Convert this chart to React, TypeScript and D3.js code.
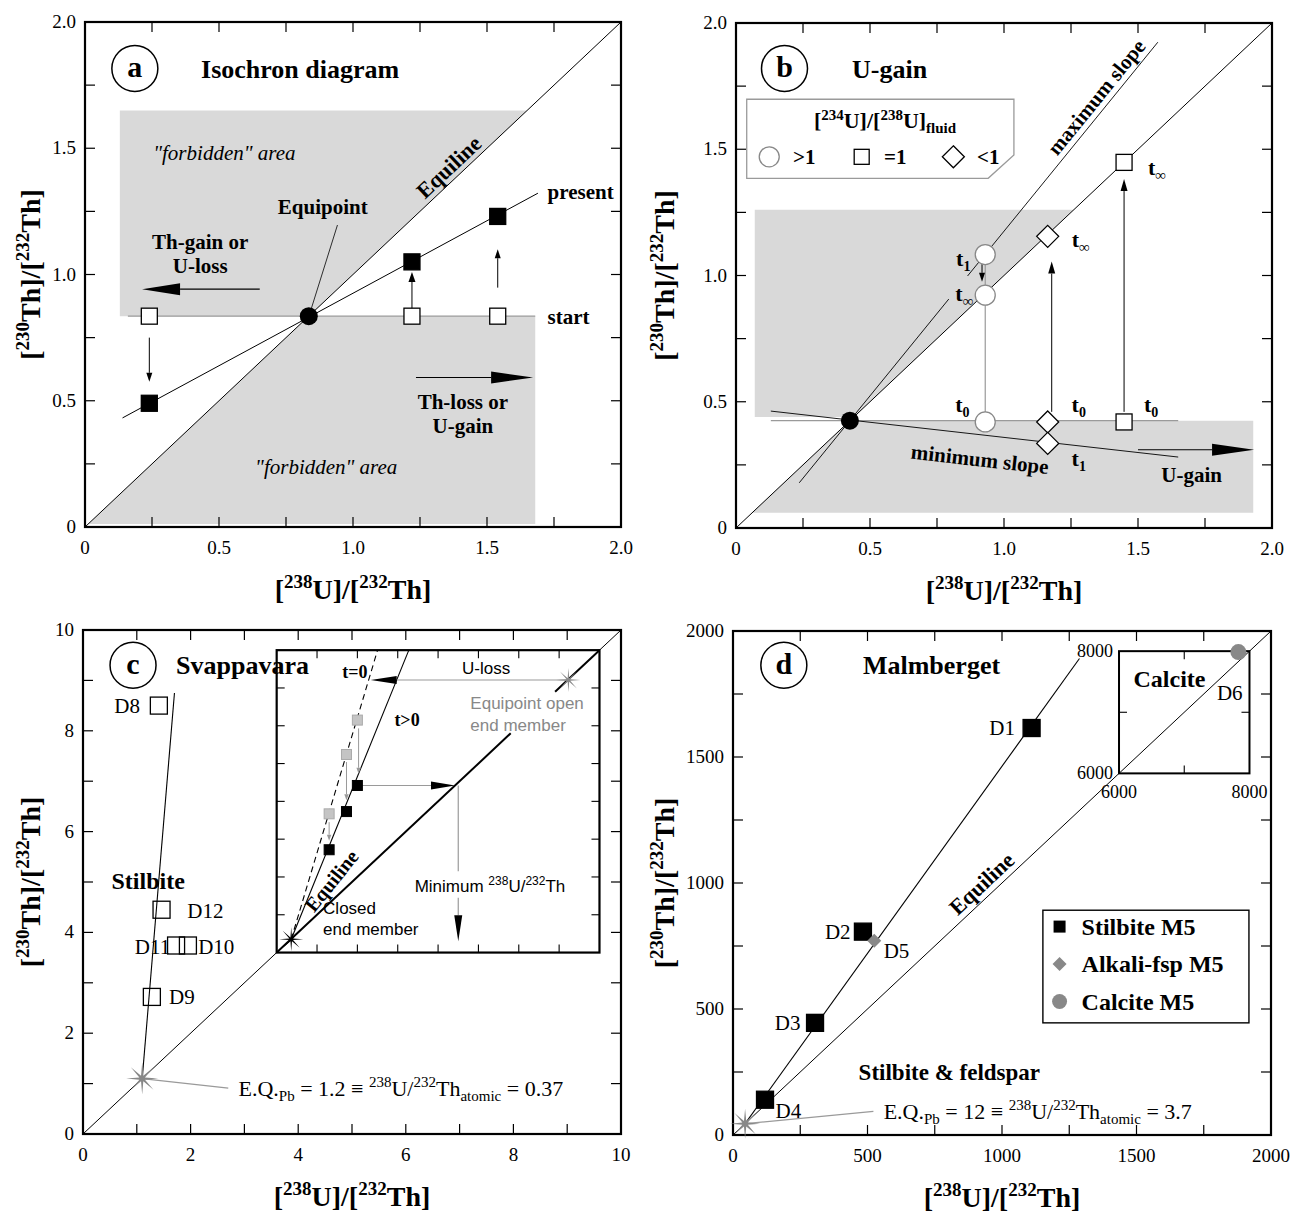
import React from "react";
import * as d3 from "d3";

// ---------------- data ----------------
// panel a : isochron diagram
const aEquipoint = 0.835;
const aSampleX = [0.24, 1.22, 1.54];
const aPresentY = [0.49, 1.05, 1.23];
const aPresentLine = [[0.14, 0.432], [1.69, 1.322]];
const aUpperArea = [[0.13, 0.835], [0.13, 1.65], [1.65, 1.65], [0.835, 0.835]];
const aLowerArea = [[0.015, 0.015], [0.835, 0.835], [1.68, 0.835], [1.68, 0.012], [0.015, 0.012]];

// panel b : U-gain
const bEquipoint = 0.425;
const bCircleX = 0.93;
const bCircleY = [0.42, 0.922, 1.083]; // t0, t-inf, t1
const bDiamondX = 1.163;
const bDiamondY = [0.42, 1.155, 0.335]; // t0, t-inf, t1
const bSquareX = 1.448;
const bSquareY = [0.42, 1.448]; // t0, t-inf
const bMaxSlope = [[0.236, 0.179], [1.574, 1.924]];
const bMinSlope = [[0.13, 0.463], [1.65, 0.281]];
const bUpperArea = [[0.07, 0.44], [0.07, 1.26], [1.26, 1.26], [0.44, 0.44]];
const bLowerArea = [[0.06, 0.06], [0.425, 0.425], [1.93, 0.425], [1.93, 0.06]];

// panel c : Svappavara
const cNames = ["D8", "D12", "D11", "D10", "D9"];
const cU = [1.41, 1.46, 1.73, 1.95, 1.28];
const cTh = [8.5, 4.45, 3.74, 3.74, 2.72];
const cEquipoint = 1.1;
const cStilbiteLine = [[1.1, 1.09], [1.7, 8.75]];
const cInsetBox = [3.6, 9.6];
const cInsetX = [1.3, 1.73, 2.0];
const cInsetClosed = [2.72, 3.73, 4.42]; // t>0
const cInsetOpen = [3.67, 5.24, 6.15]; // t=0
const cClosedStar = [0.36, 0.35];
const cOpenStar = [7.23, 7.21];

// panel d : Malmberget
const dNames = ["D1", "D2", "D3", "D4"];
const dU = [1110, 483, 305, 119];
const dTh = [1615, 807, 445, 140];
const dFsp = [525, 771]; // D5
const dCalcite = [7830, 7985]; // D6
const dEquipoint = 45;
const dLine = [[45, 45], [1288, 1891]];
const dInsetBox = [1435, 1920];
const dLegend = ["Stilbite M5", "Alkali-fsp M5", "Calcite M5"];

// ---------------- style ----------------
const SERIF = "'Liberation Serif', 'Times New Roman', serif";
const SANS = "'Liberation Sans', Arial, sans-serif";
const AREA = "#d9d9d9";
const LGRAY = "#9a9a9a";
const MGRAY = "#888";

const frames = {
  a: { l: 85, r: 621, t: 22, b: 527, yt: 30 },
  b: { l: 736, r: 1272, t: 23, b: 528, yt: 664 },
  c: { l: 83, r: 621, t: 630, b: 1134, yt: 30 },
  d: { l: 733, r: 1271, t: 631, b: 1135, yt: 664 },
};

function Axes({ fr, x, y, major, minorStep, fmt }) {
  const [d0, d1] = x.domain();
  const minor = d3.range(d0 + minorStep, d1 - minorStep / 2, minorStep);
  const tl = 10;
  return (
    <g>
      <g stroke="#000" strokeWidth={1.2}>
        {minor.map((v) => (
          <g key={v}>
            <line x1={x(v)} x2={x(v)} y1={fr.b} y2={fr.b - tl} />
            <line x1={x(v)} x2={x(v)} y1={fr.t} y2={fr.t + tl} />
            <line y1={y(v)} y2={y(v)} x1={fr.l} x2={fr.l + tl} />
            <line y1={y(v)} y2={y(v)} x1={fr.r} x2={fr.r - tl} />
          </g>
        ))}
      </g>
      <rect x={fr.l} y={fr.t} width={fr.r - fr.l} height={fr.b - fr.t} fill="none" stroke="#000" strokeWidth={2.2} />
      <g fontSize={19}>
        {major.map((v) => (
          <text key={"x" + v} x={x(v)} y={fr.b + 27} textAnchor="middle">{fmt(v)}</text>
        ))}
        {major.map((v) => (
          <text key={"y" + v} x={fr.l - 9} y={y(v) + 6} textAnchor="end">{fmt(v)}</text>
        ))}
      </g>
      <text x={(fr.l + fr.r) / 2} y={fr.b + 72} textAnchor="middle" fontWeight="bold" fontSize={28}>
        [<tspan dy={-11} fontSize={19}>238</tspan><tspan dy={11}>U]/[</tspan><tspan dy={-11} fontSize={19}>232</tspan><tspan dy={11}>Th]</tspan>
      </text>
      <text transform={`translate(${fr.yt},${(fr.t + fr.b) / 2}) rotate(-90)`} textAnchor="middle" fontWeight="bold" fontSize={28} dy={10}>
        [<tspan dy={-11} fontSize={19}>230</tspan><tspan dy={11}>Th]/[</tspan><tspan dy={-11} fontSize={19}>232</tspan><tspan dy={11}>Th]</tspan>
      </text>
    </g>
  );
}

function Lbl({ x, y, anchor = "start", size = 21, bold = true, italic = false, fill = "#000", font = SERIF, rot = 0, children }) {
  return (
    <text x={x} y={y} dy="0.35em" textAnchor={anchor} fontSize={size} fontWeight={bold ? "bold" : "normal"}
      fontStyle={italic ? "italic" : "normal"} fill={fill} fontFamily={font}
      transform={rot ? `rotate(${rot},${x},${y})` : undefined}>
      {children}
    </text>
  );
}

function TitleBadge({ cx, cy, letter, title, tx }) {
  return (
    <g>
      <circle cx={cx} cy={cy} r={23} fill="none" stroke="#000" strokeWidth={1.5} />
      <Lbl x={cx} y={cy - 2} anchor="middle" size={30}>{letter}</Lbl>
      <Lbl x={tx} y={cy} size={26}>{title}</Lbl>
    </g>
  );
}

function Arrow({ x1, y1, x2, y2, len = 10, hw = 3.5, stroke = "#000", head = "#000", sw = 1 }) {
  const dx = x2 - x1, dy = y2 - y1, d = Math.hypot(dx, dy);
  const ux = dx / d, uy = dy / d;
  const bx = x2 - ux * len, by = y2 - uy * len;
  const pts = `${x2},${y2} ${bx - uy * hw},${by + ux * hw} ${bx + uy * hw},${by - ux * hw}`;
  return (
    <g>
      <line x1={x1} y1={y1} x2={bx} y2={by} stroke={stroke} strokeWidth={sw} />
      <polygon points={pts} fill={head} />
    </g>
  );
}

function Square({ cx, cy, s = 16, fill = "#fff", stroke = "#000", sw = 1.3 }) {
  return <rect x={cx - s / 2} y={cy - s / 2} width={s} height={s} fill={fill} stroke={stroke} strokeWidth={sw} />;
}

function Diamond({ cx, cy, h = 11, fill = "#fff", stroke = "#000", sw = 1.3 }) {
  return <polygon points={`${cx},${cy - h} ${cx + h},${cy} ${cx},${cy + h} ${cx - h},${cy}`} fill={fill} stroke={stroke} strokeWidth={sw} />;
}

function Star({ cx, cy, R = 14, r = 2.5, fill = MGRAY }) {
  const pts = d3.range(16).map((i) => {
    const a = (i * Math.PI) / 8;
    const rr = i % 2 === 0 ? R : r;
    return `${cx + rr * Math.cos(a)},${cy + rr * Math.sin(a)}`;
  });
  return <polygon points={pts.join(" ")} fill={fill} />;
}

const angleOf = (x, y, p, q) => (Math.atan2(y(q[1]) - y(p[1]), x(q[0]) - x(p[0])) * 180) / Math.PI;

const fmt1 = (v) => (v === 0 ? "0" : d3.format(".1f")(v));

function PanelA() {
  const fr = frames.a;
  const x = d3.scaleLinear([0, 2], [fr.l, fr.r]);
  const y = d3.scaleLinear([0, 2], [fr.b, fr.t]);
  const line = d3.line().x((d) => x(d[0])).y((d) => y(d[1]));
  const eqA = angleOf(x, y, [0, 0], [1, 1]);
  return (
    <g>
      <path d={line(aUpperArea) + "Z"} fill={AREA} />
      <path d={line(aLowerArea) + "Z"} fill={AREA} />
      <line x1={x(0.16)} x2={x(1.68)} y1={y(aEquipoint)} y2={y(aEquipoint)} stroke={LGRAY} strokeWidth={1.2} />
      <line x1={x(0)} y1={y(0)} x2={x(2)} y2={y(2)} stroke="#000" strokeWidth={1} />
      <path d={line(aPresentLine)} stroke="#000" strokeWidth={1} fill="none" />
      <line x1={x(0.84)} y1={y(0.85)} x2={x(0.942)} y2={y(1.196)} stroke="#000" strokeWidth={0.8} />
      <Axes fr={fr} x={x} y={y} major={d3.range(0, 2.01, 0.5)} minorStep={0.25} fmt={fmt1} />
      <Arrow x1={x(aSampleX[0])} y1={y(0.75)} x2={x(aSampleX[0])} y2={y(0.575)} len={9} hw={3} />
      <Arrow x1={x(aSampleX[1])} y1={y(aEquipoint)} x2={x(aSampleX[1])} y2={y(1.01)} len={10} hw={3.5} />
      <Arrow x1={x(aSampleX[2])} y1={y(0.948)} x2={x(aSampleX[2])} y2={y(1.1)} len={9} hw={3} />
      {aSampleX.map((v, i) => (
        <g key={i}>
          <Square cx={x(v)} cy={y(aEquipoint)} />
          <Square cx={x(v)} cy={y(aPresentY[i])} fill="#000" />
        </g>
      ))}
      <circle cx={x(aEquipoint)} cy={y(aEquipoint)} r={9} fill="#000" />
      <Arrow x1={x(0.652)} y1={y(0.942)} x2={x(0.213)} y2={y(0.942)} len={38} hw={6} sw={1.2} />
      <Arrow x1={x(1.235)} y1={y(0.592)} x2={x(1.672)} y2={y(0.592)} len={42} hw={6} sw={1.2} />
      <Lbl x={x(0.887)} y={y(1.267)} anchor="middle">Equipoint</Lbl>
      <Lbl x={x(1.726)} y={y(1.33)}>present</Lbl>
      <Lbl x={x(1.726)} y={y(aEquipoint)}>start</Lbl>
      <Lbl x={x(0.43)} y={y(1.13)} anchor="middle">Th-gain or</Lbl>
      <Lbl x={x(0.43)} y={y(1.035)} anchor="middle">U-loss</Lbl>
      <Lbl x={x(1.41)} y={y(0.496)} anchor="middle">Th-loss or</Lbl>
      <Lbl x={x(1.41)} y={y(0.402)} anchor="middle">U-gain</Lbl>
      <Lbl x={x(0.52)} y={y(1.484)} anchor="middle" bold={false} italic>"forbidden" area</Lbl>
      <Lbl x={x(0.9)} y={y(0.24)} anchor="middle" bold={false} italic>"forbidden" area</Lbl>
      <Lbl x={x(1.357)} y={y(1.426)} anchor="middle" size={22} rot={eqA}>Equiline</Lbl>
      <TitleBadge cx={x(0.186)} cy={y(1.816)} letter="a" title="Isochron diagram" tx={x(0.433)} />
    </g>
  );
}

function Tlabel({ x, y, sub }) {
  return (
    <text x={x} y={y} dy="0.3em" textAnchor="middle" fontWeight="bold" fontSize={22}>
      t<tspan dy={5} fontSize={sub === "\u221E" ? 15 : 14}>{sub}</tspan>
    </text>
  );
}

function PanelB() {
  const fr = frames.b;
  const x = d3.scaleLinear([0, 2], [fr.l, fr.r]);
  const y = d3.scaleLinear([0, 2], [fr.b, fr.t]);
  const line = d3.line().x((d) => x(d[0])).y((d) => y(d[1]));
  const maxAt = (u) => bMaxSlope[0][1] + ((bMaxSlope[1][1] - bMaxSlope[0][1]) / (bMaxSlope[1][0] - bMaxSlope[0][0])) * (u - bMaxSlope[0][0]);
  const maxA = angleOf(x, y, bMaxSlope[0], bMaxSlope[1]);
  const minA = angleOf(x, y, bMinSlope[0], bMinSlope[1]);
  const lg = { x0: 0.04, x1: 1.037, yt: 1.698, yb: 1.385, cy: 1.477, cx: 0.941 };
  const legendPath = `M${x(lg.x0)},${y(lg.yt)}H${x(lg.x1)}V${y(lg.cy)}L${x(lg.cx)},${y(lg.yb)}H${x(lg.x0)}Z`;
  const rowY = y(1.47);
  return (
    <g>
      <path d={line(bUpperArea) + "Z"} fill={AREA} />
      <path d={line(bLowerArea) + "Z"} fill={AREA} />
      <line x1={x(0.13)} x2={x(1.65)} y1={y(bEquipoint)} y2={y(bEquipoint)} stroke={LGRAY} strokeWidth={1.2} />
      <line x1={x(0)} y1={y(0)} x2={x(2)} y2={y(2)} stroke="#000" strokeWidth={1} />
      <line x1={x(bMaxSlope[0][0])} y1={y(bMaxSlope[0][1])} x2={x(0.794)} y2={y(maxAt(0.794))} stroke="#000" strokeWidth={0.9} />
      <line x1={x(0.864)} y1={y(maxAt(0.864))} x2={x(bMaxSlope[1][0])} y2={y(bMaxSlope[1][1])} stroke="#000" strokeWidth={0.9} />
      <path d={line(bMinSlope)} stroke="#000" strokeWidth={0.9} fill="none" />
      <line x1={x(bCircleX)} x2={x(bCircleX)} y1={y(bCircleY[0])} y2={y(bCircleY[2])} stroke={LGRAY} strokeWidth={1.2} />
      <line x1={x(bDiamondX)} x2={x(bDiamondX)} y1={y(bDiamondY[0])} y2={y(bDiamondY[2])} stroke={LGRAY} strokeWidth={1.2} />
      <Axes fr={fr} x={x} y={y} major={d3.range(0, 2.01, 0.5)} minorStep={0.25} fmt={fmt1} />
      <Arrow x1={x(1.178)} y1={y(0.46)} x2={x(1.178)} y2={y(1.055)} len={12} hw={3.5} />
      <Arrow x1={x(bSquareX)} y1={y(0.46)} x2={x(bSquareX)} y2={y(1.382)} len={12} hw={3.5} />
      <Arrow x1={x(0.918)} y1={y(1.045)} x2={x(0.918)} y2={y(0.975)} len={9} hw={3} />
      <circle cx={x(bEquipoint)} cy={y(bEquipoint)} r={9} fill="#000" />
      {bCircleY.map((v, i) => (
        <circle key={"c" + i} cx={x(bCircleX)} cy={y(v)} r={10} fill="#fff" stroke={MGRAY} strokeWidth={1.3} />
      ))}
      {bDiamondY.map((v, i) => (
        <Diamond key={"d" + i} cx={x(bDiamondX)} cy={y(v)} />
      ))}
      {bSquareY.map((v, i) => (
        <Square key={"s" + i} cx={x(bSquareX)} cy={y(v)} />
      ))}
      <Arrow x1={x(1.5)} y1={y(0.31)} x2={x(1.933)} y2={y(0.31)} len={42} hw={6} sw={1.2} />
      <Tlabel x={x(0.845)} y={y(0.486)} sub="0" />
      <Tlabel x={x(1.279)} y={y(0.486)} sub="0" />
      <Tlabel x={x(1.549)} y={y(0.486)} sub="0" />
      <Tlabel x={x(0.848)} y={y(1.062)} sub="1" />
      <Tlabel x={x(0.852)} y={y(0.926)} sub={"\u221E"} />
      <Tlabel x={x(1.286)} y={y(1.138)} sub={"\u221E"} />
      <Tlabel x={x(1.571)} y={y(1.426)} sub={"\u221E"} />
      <Tlabel x={x(1.279)} y={y(0.273)} sub="1" />
      <Lbl x={x(0.91)} y={y(0.273)} anchor="middle" rot={minA}>minimum slope</Lbl>
      <Lbl x={x(1.344)} y={y(1.707)} anchor="middle" rot={maxA}>maximum slope</Lbl>
      <Lbl x={x(1.7)} y={y(0.212)} anchor="middle">U-gain</Lbl>
      <path d={legendPath} fill="#fff" stroke={LGRAY} strokeWidth={1.3} />
      <text x={x(0.556)} y={y(1.616)} dy="0.35em" textAnchor="middle" fontWeight="bold" fontSize={22}>
        [<tspan dy={-8} fontSize={15}>234</tspan><tspan dy={8}>U]/[</tspan><tspan dy={-8} fontSize={15}>238</tspan><tspan dy={8}>U]</tspan><tspan dy={5} fontSize={15}>fluid</tspan>
      </text>
      <circle cx={x(0.124)} cy={rowY} r={10} fill="#fff" stroke={MGRAY} strokeWidth={1.3} />
      <Lbl x={x(0.213)} y={rowY}>&gt;1</Lbl>
      <Square cx={x(0.469)} cy={rowY} s={15} />
      <Lbl x={x(0.552)} y={rowY}>=1</Lbl>
      <Diamond cx={x(0.811)} cy={rowY} h={11} />
      <Lbl x={x(0.899)} y={rowY}>&lt;1</Lbl>
      <TitleBadge cx={x(0.181)} cy={y(1.82)} letter="b" title="U-gain" tx={x(0.433)} />
    </g>
  );
}

function EqText({ x, y, pb, atomic }) {
  return (
    <text x={x} y={y} dy="0.35em" fontSize={22}>
      E.Q.<tspan dy={5} fontSize={15}>Pb</tspan><tspan dy={-5}>{` = ${pb} \u2261 `}</tspan>
      <tspan dy={-9} fontSize={15}>238</tspan><tspan dy={9}>U/</tspan><tspan dy={-9} fontSize={15}>232</tspan>
      <tspan dy={9}>Th</tspan><tspan dy={5} fontSize={15}>atomic</tspan><tspan dy={-5}>{` = ${atomic}`}</tspan>
    </text>
  );
}

function PanelC() {
  const fr = frames.c;
  const x = d3.scaleLinear([0, 10], [fr.l, fr.r]);
  const y = d3.scaleLinear([0, 10], [fr.b, fr.t]);
  const ix = d3.scaleLinear([0, 8], [x(cInsetBox[0]), x(cInsetBox[1])]);
  const iy = d3.scaleLinear([0, 8], [y(cInsetBox[0]), y(cInsetBox[1])]);
  const it = d3.range(1, 8);
  const solidTop = [3.275, 8];
  const dashTop = [2.5, 8];
  const eqA = angleOf(ix, iy, [0, 0], [1, 1]);
  return (
    <g>
      <line x1={x(0)} y1={y(0)} x2={x(10)} y2={y(10)} stroke="#000" strokeWidth={1} />
      <line x1={x(cStilbiteLine[0][0])} y1={y(cStilbiteLine[0][1])} x2={x(cStilbiteLine[1][0])} y2={y(cStilbiteLine[1][1])} stroke="#000" strokeWidth={1.1} />
      <line x1={x(cEquipoint)} y1={y(cEquipoint)} x2={x(2.7)} y2={y(0.91)} stroke={LGRAY} strokeWidth={1.2} />
      <Axes fr={fr} x={x} y={y} major={d3.range(0, 10.01, 2)} minorStep={1} fmt={d3.format("d")} />
      <Star cx={x(cEquipoint)} cy={y(cEquipoint)} R={16} r={3} />
      {cNames.map((n, i) => (
        <Square key={n} cx={x(cU[i])} cy={y(cTh[i])} s={17} fill="none" />
      ))}
      <Lbl x={x(1.06)} y={y(8.5)} anchor="end" bold={false}>D8</Lbl>
      <Lbl x={x(1.94)} y={y(4.43)} bold={false}>D12</Lbl>
      <Lbl x={x(1.62)} y={y(3.72)} anchor="end" bold={false}>D11</Lbl>
      <Lbl x={x(2.14)} y={y(3.72)} bold={false}>D10</Lbl>
      <Lbl x={x(1.6)} y={y(2.72)} bold={false}>D9</Lbl>
      <Lbl x={x(0.53)} y={y(5.02)} size={24}>Stilbite</Lbl>
      <EqText x={x(2.89)} y={y(0.9)} pb="1.2" atomic="0.37" />

      {/* inset */}
      <rect x={ix(0)} y={iy(8)} width={ix(8) - ix(0)} height={iy(0) - iy(8)} fill="#fff" />
      <g stroke="#000" strokeWidth={1.1}>
        {it.map((v) => (
          <g key={v}>
            <line x1={ix(v)} x2={ix(v)} y1={iy(0)} y2={iy(0) - 8} />
            <line x1={ix(v)} x2={ix(v)} y1={iy(8)} y2={iy(8) + 8} />
            <line y1={iy(v)} y2={iy(v)} x1={ix(0)} x2={ix(0) + 8} />
            <line y1={iy(v)} y2={iy(v)} x1={ix(8)} x2={ix(8) - 8} />
          </g>
        ))}
      </g>
      <line x1={ix(0)} y1={iy(0)} x2={ix(5.8)} y2={iy(5.8)} stroke="#000" strokeWidth={2} />
      <line x1={ix(6.9)} y1={iy(6.9)} x2={ix(8)} y2={iy(8)} stroke="#000" strokeWidth={2} />
      <line x1={ix(cClosedStar[0])} y1={iy(cClosedStar[1])} x2={ix(solidTop[0])} y2={iy(solidTop[1])} stroke="#000" strokeWidth={1.1} />
      <line x1={ix(cClosedStar[0])} y1={iy(cClosedStar[1])} x2={ix(dashTop[0])} y2={iy(dashTop[1])} stroke="#000" strokeWidth={1.1} strokeDasharray="6,4" />
      <Arrow x1={ix(cOpenStar[0])} y1={iy(cOpenStar[1])} x2={ix(2.33)} y2={iy(cOpenStar[1])} len={26} hw={4} stroke={LGRAY} sw={1.2} />
      <Arrow x1={ix(cInsetX[2])} y1={iy(cInsetClosed[2])} x2={ix(cInsetClosed[2])} y2={iy(cInsetClosed[2])} len={24} hw={4} stroke={LGRAY} sw={1.2} />
      <line x1={ix(4.5)} x2={ix(4.5)} y1={iy(cInsetClosed[2])} y2={iy(2.15)} stroke={LGRAY} strokeWidth={1.2} />
      <Arrow x1={ix(4.5)} y1={iy(1.45)} x2={ix(4.5)} y2={iy(0.3)} len={26} hw={4} stroke={LGRAY} sw={1.2} />
      <Arrow x1={ix(1.3)} y1={iy(3.45)} x2={ix(1.3)} y2={iy(2.96)} len={6} hw={2.2} stroke={LGRAY} head={LGRAY} />
      <Arrow x1={ix(1.73)} y1={iy(5.04)} x2={ix(1.73)} y2={iy(4.03)} len={6} hw={2.2} stroke={LGRAY} head={LGRAY} />
      <Arrow x1={ix(2.03)} y1={iy(5.93)} x2={ix(2.03)} y2={iy(4.73)} len={6} hw={2.2} stroke={LGRAY} head={LGRAY} />
      {cInsetX.map((v, i) => (
        <g key={i}>
          <Square cx={ix(v)} cy={iy(cInsetOpen[i])} s={10} fill="#c4c4c4" stroke="#aaa" sw={1} />
          <Square cx={ix(v)} cy={iy(cInsetClosed[i])} s={10} fill="#000" sw={1} />
        </g>
      ))}
      <Star cx={ix(cClosedStar[0])} cy={iy(cClosedStar[1])} R={12} r={2} fill="#000" />
      <Star cx={ix(cOpenStar[0])} cy={iy(cOpenStar[1])} R={12} r={2} fill={MGRAY} />
      <rect x={ix(0)} y={iy(8)} width={ix(8) - ix(0)} height={iy(0) - iy(8)} fill="none" stroke="#000" strokeWidth={2.2} />
      <Lbl x={ix(5.19)} y={iy(7.52)} anchor="middle" size={17} bold={false} font={SANS}>U-loss</Lbl>
      <Lbl x={ix(4.8)} y={iy(6.59)} size={17} bold={false} font={SANS} fill={MGRAY}>Equipoint open</Lbl>
      <Lbl x={ix(4.8)} y={iy(6.02)} size={17} bold={false} font={SANS} fill={MGRAY}>end member</Lbl>
      <Lbl x={ix(1.15)} y={iy(1.19)} size={17} bold={false} font={SANS}>Closed</Lbl>
      <Lbl x={ix(1.15)} y={iy(0.62)} size={17} bold={false} font={SANS}>end member</Lbl>
      <text x={ix(3.42)} y={iy(1.77)} dy="0.35em" fontSize={17} fontFamily={SANS}>
        Minimum <tspan dy={-7} fontSize={12}>238</tspan><tspan dy={7}>U/</tspan><tspan dy={-7} fontSize={12}>232</tspan><tspan dy={7}>Th</tspan>
      </text>
      <Lbl x={ix(1.94)} y={iy(7.43)} anchor="middle" size={18}>t=0</Lbl>
      <Lbl x={ix(3.23)} y={iy(6.15)} anchor="middle" size={18}>t&gt;0</Lbl>
      <Lbl x={ix(1.36)} y={iy(1.9)} anchor="middle" size={20} rot={eqA - 8}>Equiline</Lbl>

      <TitleBadge cx={x(0.93)} cy={y(9.3)} letter="c" title="Svappavara" tx={x(1.73)} />
    </g>
  );
}

function PanelD() {
  const fr = frames.d;
  const x = d3.scaleLinear([0, 2000], [fr.l, fr.r]);
  const y = d3.scaleLinear([0, 2000], [fr.b, fr.t]);
  const ix = d3.scaleLinear([6000, 8000], [x(dInsetBox[0]), x(dInsetBox[1])]);
  const iy = d3.scaleLinear([6000, 8000], [y(dInsetBox[0]), y(dInsetBox[1])]);
  const eqA = angleOf(x, y, [0, 0], [1, 1]);
  const lgX = x(1214);
  const lgY = [827, 679, 530];
  return (
    <g>
      <line x1={x(0)} y1={y(0)} x2={x(2000)} y2={y(2000)} stroke="#000" strokeWidth={1} />
      <line x1={x(dLine[0][0])} y1={y(dLine[0][1])} x2={x(dLine[1][0])} y2={y(dLine[1][1])} stroke="#000" strokeWidth={1.1} />
      <line x1={x(dEquipoint)} y1={y(dEquipoint)} x2={x(522)} y2={y(94)} stroke={LGRAY} strokeWidth={1.2} />
      <Axes fr={fr} x={x} y={y} major={d3.range(0, 2001, 500)} minorStep={250} fmt={d3.format("d")} />
      <Star cx={x(dEquipoint)} cy={y(dEquipoint)} R={15} r={3} />
      {dNames.map((n, i) => (
        <Square key={n} cx={x(dU[i])} cy={y(dTh[i])} s={17} fill="#000" />
      ))}
      <Diamond cx={x(dFsp[0])} cy={y(dFsp[1])} h={7} fill={MGRAY} stroke="none" />
      <Lbl x={x(1048)} y={y(1615)} anchor="end" bold={false}>D1</Lbl>
      <Lbl x={x(437)} y={y(807)} anchor="end" bold={false}>D2</Lbl>
      <Lbl x={x(251)} y={y(445)} anchor="end" bold={false}>D3</Lbl>
      <Lbl x={x(158)} y={y(97)} bold={false}>D4</Lbl>
      <Lbl x={x(560)} y={y(733)} bold={false}>D5</Lbl>
      <EqText x={x(560)} y={y(94)} pb="12" atomic="3.7" />
      <Lbl x={x(467)} y={y(250)} size={23}>Stilbite &amp; feldspar</Lbl>
      <Lbl x={x(924)} y={y(998)} anchor="middle" size={22} rot={eqA}>Equiline</Lbl>
      <TitleBadge cx={x(189)} cy={y(1864)} letter="d" title="Malmberget" tx={x(483)} />

      {/* calcite inset */}
      <rect x={ix(6000)} y={iy(8000)} width={ix(8000) - ix(6000)} height={iy(6000) - iy(8000)} fill="none" stroke="#000" strokeWidth={2} />
      <g stroke="#000" strokeWidth={1.1}>
        <line x1={ix(7000)} x2={ix(7000)} y1={iy(6000)} y2={iy(6000) - 8} />
        <line x1={ix(7000)} x2={ix(7000)} y1={iy(8000)} y2={iy(8000) + 8} />
        <line y1={iy(7000)} y2={iy(7000)} x1={ix(6000)} x2={ix(6000) + 8} />
        <line y1={iy(7000)} y2={iy(7000)} x1={ix(8000)} x2={ix(8000) - 8} />
      </g>
      <circle cx={ix(dCalcite[0])} cy={iy(dCalcite[1])} r={8} fill={MGRAY} />
      <g fontSize={18}>
        <text x={ix(6000) - 6} y={iy(8000) + 6} textAnchor="end">8000</text>
        <text x={ix(6000) - 6} y={iy(6000) + 6} textAnchor="end">6000</text>
        <text x={ix(6000)} y={iy(6000) + 25} textAnchor="middle">6000</text>
        <text x={ix(8000)} y={iy(6000) + 25} textAnchor="middle">8000</text>
      </g>
      <Lbl x={x(1489)} y={y(1810)} size={24}>Calcite</Lbl>
      <Lbl x={x(1799)} y={y(1755)} bold={false}>D6</Lbl>

      {/* legend */}
      <rect x={x(1152)} y={y(892)} width={x(1918) - x(1152)} height={y(445) - y(892)} fill="#fff" stroke="#000" strokeWidth={1.4} />
      <rect x={lgX - 6} y={y(lgY[0]) - 6} width={12} height={12} fill="#000" />
      <Diamond cx={lgX} cy={y(lgY[1])} h={7} fill={MGRAY} stroke="none" />
      <circle cx={lgX} cy={y(lgY[2])} r={7.5} fill={MGRAY} />
      {dLegend.map((t, i) => (
        <Lbl key={t} x={x(1296)} y={y(lgY[i])} size={24}>{t}</Lbl>
      ))}
    </g>
  );
}

export default function App() {
  return (
    <svg width={1291} height={1216} style={{ position: "absolute", left: 0, top: 0, background: "#fff" }}
      fontFamily={SERIF}>
      <rect width={1291} height={1216} fill="#fff" />
      <PanelA />
      <PanelB />
      <PanelC />
      <PanelD />
    </svg>
  );
}
